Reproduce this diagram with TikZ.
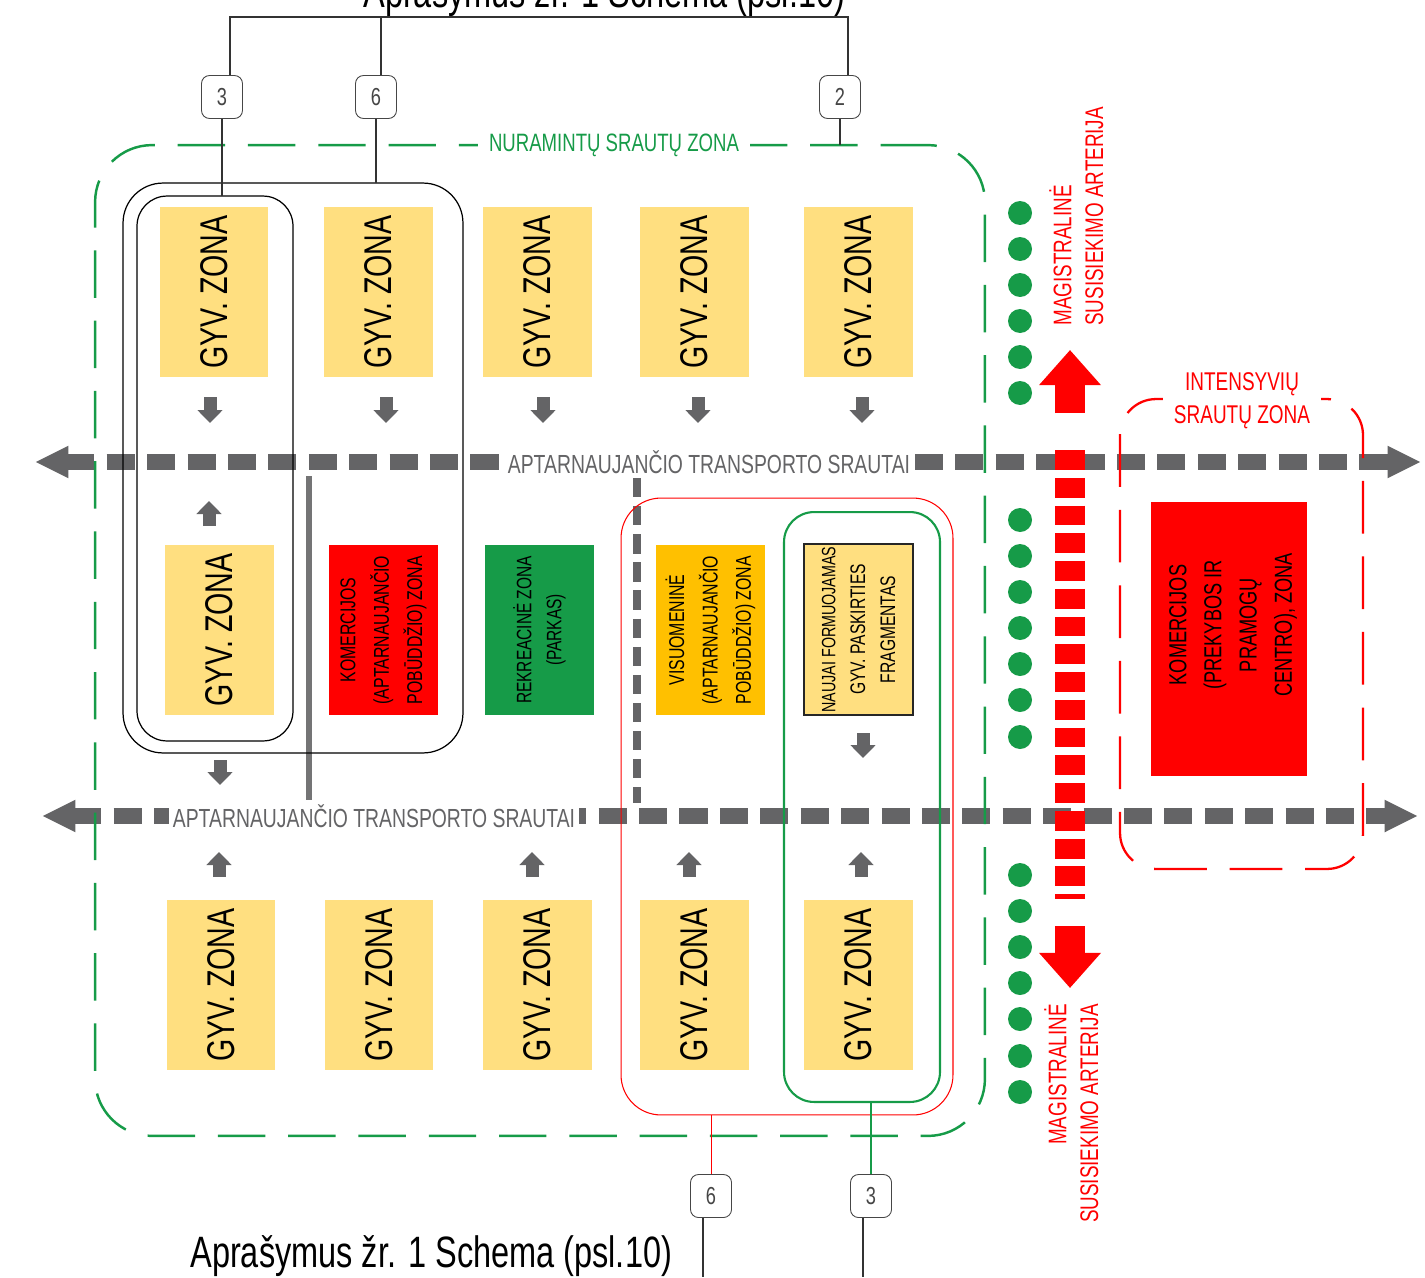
\documentclass[tikz,border=0pt]{standalone}
\usepackage{fontspec}
\newfontfamily\cad[FakeStretch=0.74]{Liberation Sans}
\usetikzlibrary{positioning,arrows.meta}

\definecolor{gyvfill}{RGB}{255,223,128}
\definecolor{flowgray}{RGB}{100,100,102}
\definecolor{parkgreen}{RGB}{22,155,72}
\definecolor{pubamber}{RGB}{255,192,0}
\definecolor{comred}{RGB}{255,0,0}
\definecolor{tagink}{RGB}{70,70,70}

\newcommand{\fs}[2]{\cad\fontsize{#1}{#2}\selectfont}

\begin{document}
\begin{tikzpicture}[x=0.02cm, y=-0.02cm,
  zone/.style={rotate=90, minimum width=3.42cm, minimum height=2.18cm, inner sep=0pt, align=center},
  gyv/.style={zone, fill=gyvfill, font=\fs{22}{26}},
  zonesmall/.style={zone, font=\fs{12.2}{19}},
  zoneframe/.style={draw, outer sep=0pt, inner sep=0pt},
  tag/.style={draw=tagink, line width=0.5pt, rounded corners=0.16cm, minimum width=0.82cm,
    minimum height=0.86cm, inner sep=0pt, text=tagink, font=\fs{14}{16}},
  leader/.style={line width=0.6pt, black!80},
  flow/.style={flowgray, line width=9pt, dash pattern=on 16pt off 7pt,
    {Triangle[length=19pt,width=17pt]}-{Triangle[length=19pt,width=17pt]}},
  flowlabel/.style={fill=white, text=flowgray, inner sep=2pt, font=\fs{14.9}{17}},
  garrow/.style={flowgray, line width=7.4pt, -{Triangle[length=7.4pt,width=14pt]}},
  redarrow/.style={comred, line width=17pt, -{Triangle[length=20pt,width=34pt]}},
  artery/.style={comred, line width=17pt, dash pattern=on 11.3pt off 4.5pt},
  artlabel/.style={rotate=90, text=comred, inner sep=0pt, font=\fs{14.5}{18}},
  note/.style={inner sep=0pt, font=\fs{25}{30}}
]
\useasboundingbox (0,0) rectangle (1425,1277);

% transport flows
\draw[flow] (35,462) -- (1421,462);
\draw[flow] (42,816) -- (1418,816);
\draw[flowgray!90, line width=3.2pt] (309,476) -- (309,800);
\draw[flowgray, line width=4pt, dash pattern=on 11pt off 5pt] (637,478) -- (637,803);
\node[flowlabel] (flowN) at (709,462) {APTARNAUJANČIO TRANSPORTO SRAUTAI};
\node[flowlabel] (flowS) at (374,816) {APTARNAUJANČIO TRANSPORTO SRAUTAI};

% zone frames
\node[zoneframe, draw=parkgreen, line width=1.4pt, dash pattern=on 27pt off 13pt,
  rounded corners=1.14cm, minimum width=17.8cm, minimum height=19.82cm] (calm) at (540,640.5) {};
\node[zoneframe, line width=0.7pt, rounded corners=0.8cm, minimum width=6.8cm, minimum height=11.4cm] (blk6) at (293,468) {};
\node[zoneframe, line width=0.7pt, rounded corners=0.6cm, minimum width=3.12cm, minimum height=10.9cm] (blk3) at (215,468.5) {};
\node[zoneframe, draw=comred, line width=0.6pt, rounded corners=0.8cm, minimum width=6.64cm, minimum height=12.34cm] (pub6) at (787,806.5) {};
\node[zoneframe, draw=parkgreen, line width=1.2pt, rounded corners=0.6cm, minimum width=3.12cm, minimum height=11.8cm] (new3) at (862,807) {};
\node[zoneframe, draw=comred, line width=1.3pt, dash pattern=on 30pt off 13pt,
  rounded corners=0.72cm, minimum width=4.86cm, minimum height=9.4cm] (busy) at (1241.5,634) {};

% zones
\foreach \x [count=\i] in {214,378.5,537.5,694.5,858.5}
  \node[gyv] (top\i) at (\x,292) {GYV. ZONA};
\foreach \x [count=\i] in {221,379,537.5,694.5,858.5}
  \node[gyv] (bot\i) at (\x,985) {GYV. ZONA};
\node[gyv] (mid1) at (219.5,630) {GYV. ZONA};
\node[zonesmall, fill=comred] (kom) at (383.5,630) {KOMERCIJOS\\(APTARNAUJANČIO\\POBŪDDŽIO) ZONA};
\node[zonesmall, fill=parkgreen, font=\fs{11.9}{17}] (rek) at (539.5,630) {REKREACINĖ ZONA\\(PARKAS)};
\node[zonesmall, fill=pubamber] (vis) at (710.5,630) {VISUOMENINĖ\\(APTARNAUJANČIO\\POBŪDDŽIO) ZONA};
\node[zonesmall, fill=gyvfill, draw=black!85, line width=0.6pt, font=\fs{12}{17}] (naujas) at (858.5,629.5)
  {{\fs{11}{17}NAUJAI FORMUOJAMAS}\\GYV. PASKIRTIES\\FRAGMENTAS};
\node[zoneframe, draw=none, fill=comred, minimum width=3.12cm, minimum height=5.48cm] (mall) at (1229,639) {};
\node[rotate=90, align=center, inner sep=0pt, font=\fs{14}{20}] (mallText) at (1233,625)
  {KOMERCIJOS\\(PREKYBOS IR\\PRAMOGŲ\\CENTRO), ZONA};

% access arrows
\foreach \x in {210,386,543,698,862}
  \draw[garrow] (\x,397) -- (\x,423);
\draw[garrow] (209,526) -- (209,501);
\draw[garrow] (220,760) -- (220,785);
\draw[garrow] (863,733) -- (863,758);
\foreach \x in {219,532,689,861}
  \draw[garrow] (\x,877) -- (\x,852);

% arterial road
\draw[artery] (1070,450) -- (1070,899);
\draw[redarrow] (1070,413) -- (1070,350);
\draw[redarrow] (1070,926) -- (1070,988);
\foreach \y in {213,249,285,321,357,393,520,556,592,628,664,700,737,875,911,947,983,1019,1056,1092}
  \fill[parkgreen] (1020,\y) circle (0.24cm);

% labels
\node[fill=white, inner xsep=6pt, inner ysep=1pt, text=parkgreen, font=\fs{14.3}{17}] (calmText) at (614,145) {NURAMINTŲ SRAUTŲ ZONA};
\node[fill=white, inner xsep=6pt, inner ysep=1pt, align=center, text=comred, font=\fs{14.6}{19}] (busyText) at (1242,401) {INTENSYVIŲ\\SRAUTŲ ZONA};
\node[artlabel, align=left, anchor=north west] (artN) at (1049,326) {MAGISTRALINĖ\\SUSISIEKIMO ARTERIJA};
\node[artlabel, align=right, anchor=north east] (artS) at (1044,1004) {MAGISTRALINĖ\\SUSISIEKIMO ARTERIJA};

% references
\node[tag] (tagA) at (222,97) {3};
\node[tag] (tagB) at (376,97) {6};
\node[tag] (tagC) at (840,97) {2};
\node[tag] (tagD) at (711,1196) {6};
\node[tag] (tagE) at (871,1196) {3};
\node[note, anchor=base west] (noteN) at (363,8) {Aprašymus žr. 1 Schema (psl.10)};
\node[note, anchor=base west] (noteS) at (190,1267) {Aprašymus žr. 1 Schema (psl.10)};

\coordinate (j3) at (230,17);
\coordinate (j6) at (381,17);
\coordinate (j2) at (848,17);
\draw[leader] (tagA.north -| j3) -- (j3) -- (j2) -- (tagC.north -| j2);
\draw[leader] (j6) -- (tagB.north -| j6);
\draw[leader] (tagA.south) -- (tagA.south |- blk3.north);
\draw[leader] (tagB.south) -- (tagB.south |- blk6.north);
\draw[leader] (tagC.south) -- (tagC.south |- calm.north);
\draw[leader, draw=comred, line width=0.5pt] (tagD.north) -- (tagD.north |- pub6.south);
\draw[leader, draw=parkgreen] (tagE.north) -- (tagE.north |- new3.south);
\coordinate (endD) at (703,1277);
\coordinate (endE) at (863,1277);
\draw[leader] (tagD.south -| endD) -- (endD);
\draw[leader] (tagE.south -| endE) -- (endE);
\end{tikzpicture}
\end{document}
